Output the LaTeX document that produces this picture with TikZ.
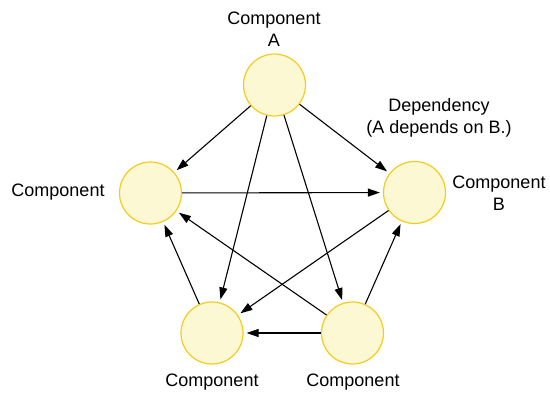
\documentclass[tikz,border=0pt]{standalone}
\usepackage{fontspec}
\setmainfont{Liberation Sans}
\usetikzlibrary{arrows.meta}
\definecolor{compfill}{RGB}{252,248,212}
\definecolor{compline}{RGB}{244,204,30}
\begin{document}
\begin{tikzpicture}[x=1pt,y=-1pt,
  comp/.style={circle,draw=compline,fill=compfill,line width=1.2pt,minimum size=62pt,inner sep=0pt},
  lbl/.style={align=center,font=\fontsize{18}{22}\selectfont,inner sep=0pt},
  dep/.style={line width=1.1pt,-{Triangle[length=12pt,width=8pt]},shorten >=3pt}]
  \useasboundingbox (0,0) rectangle (550,392);
  % components
  \node[comp] (a)  at (274.5,85) {};
  \node[comp] (b)  at (414.5,192.5) {};
  \node[comp] (l)  at (150.5,193) {};
  \node[comp] (bl) at (212,333) {};
  \node[comp] (br) at (352.5,333) {};
  % labels
  \node[lbl] (la)  at (274,29) {Component\\A};
  \node[lbl] (ldep) at (439,118) {Dependency\\(A depends on B.)};
  \node[lbl] (lb)  at (499,193) {Component\\B};
  \node[lbl] (ll)  at (58,192) {Component};
  \node[lbl] (lbl) at (212,382) {Component};
  \node[lbl] (lbr) at (353,382) {Component};
  % dependencies
  \draw[dep] (a) -- (l);
  \draw[dep] (a) -- (b);
  \draw[dep] (a) -- (bl);
  \draw[dep] (a) -- (br);
  \draw[dep] (l) -- (b);
  \draw[dep] (b) -- (bl);
  \draw[dep] (br) -- (b);
  \draw[dep] (br) -- (l);
  \draw[dep] (br) -- (bl);
  \draw[dep] (bl) -- (l);
\end{tikzpicture}
\end{document}
